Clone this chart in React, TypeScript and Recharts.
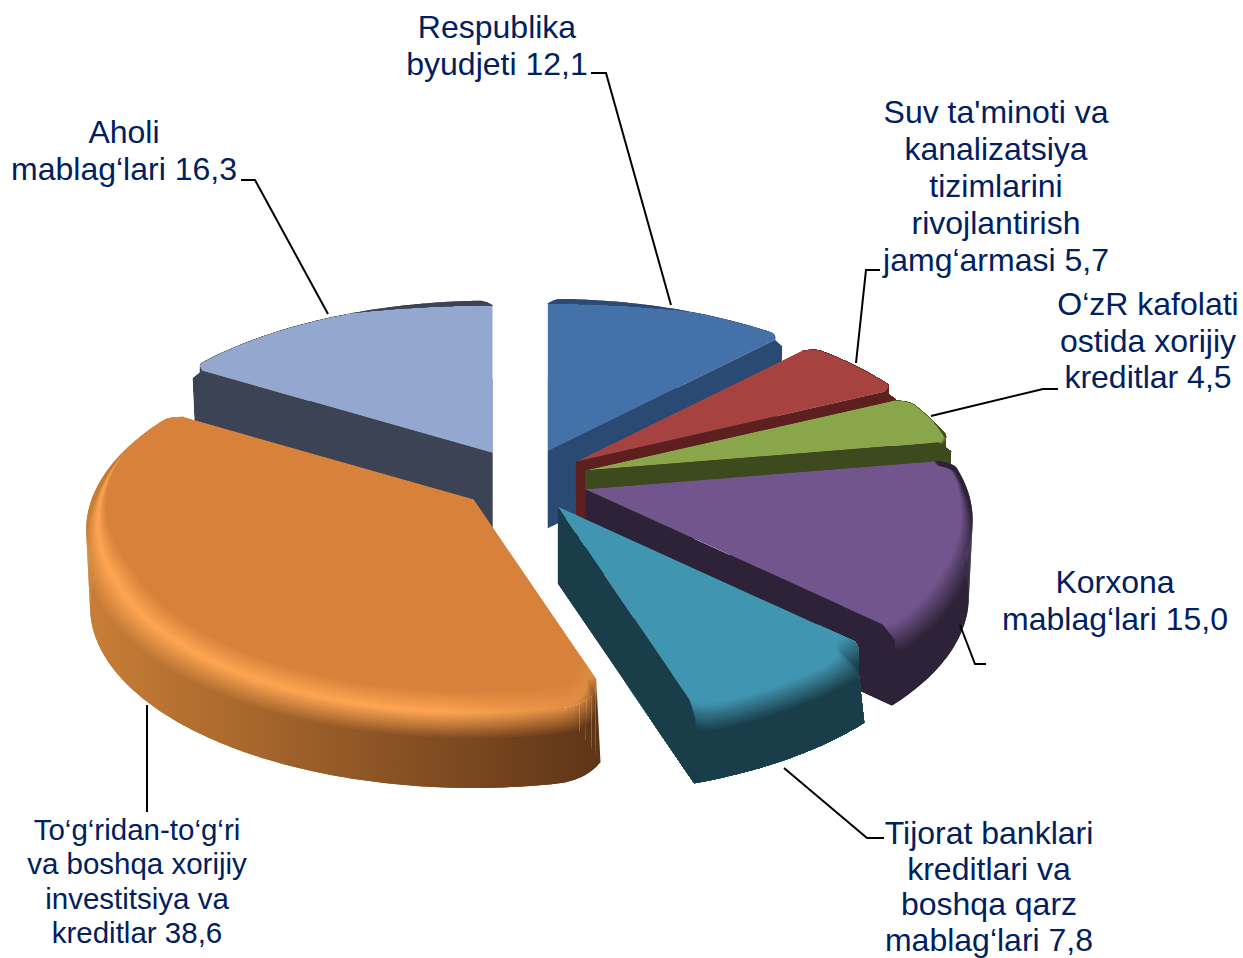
// App.tsx
import { PieChart, Pie } from "recharts";

const names = ["Aholi", "Respublika", "Suv", "OzR", "Korxona", "Tijorat", "Togridan"];
const values = [16.3, 12.1, 5.7, 4.5, 15.0, 7.8, 38.6];
const labelLines = [
  ["Aholi", "mablag‘lari"],
  ["Respublika", "byudjeti"],
  ["Suv ta'minoti va", "kanalizatsiya", "tizimlarini", "rivojlantirish", "jamg‘armasi"],
  ["O‘zR kafolati", "ostida xorijiy", "kreditlar"],
  ["Korxona", "mablag‘lari"],
  ["Tijorat banklari", "kreditlari va", "boshqa qarz", "mablag‘lari"],
  ["To‘g‘ridan-to‘g‘ri", "va boshqa xorijiy", "investitsiya va", "kreditlar"],
];

// slice colours: top face, rim (left / right), wall (left / right end of the outer wall), cut faces
const topColors = ["#93a7cf", "#4471a8", "#a6423f", "#8aa64b", "#72558c", "#4095b0", "#d7813a"];
const rimLeft = ["#93a7cf", "#4471a8", "#a6423f", "#8aa64b", "#72558c", "#4095b0", "#ffa552"];
const rimRight = ["#93a7cf", "#4471a8", "#a6423f", "#8aa64b", "#72558c", "#4095b0", "#dc8a40"];
const wallLeft = ["#3c4354", "#2a4a73", "#5e1f1f", "#3c4a1e", "#2e2238", "#1a3d4a", "#c97e36"];
const wallRight = ["#3c4354", "#2a4a73", "#5e1f1f", "#3c4a1e", "#2e2238", "#1a3d4a", "#5f3518"];
const cutColors = ["#3c4354", "#2a4a73", "#5e1f1f", "#3c4a1e", "#2e2238", "#1a3d4a", "#5f3518"];

// extra pull-in of the clockwise-first corner (only the orange slice has one)
const cornerExtra = [0, 0, 0, 0, 0, 0, 0.06];

// label placement: centre x, first baseline, line height, font size
const labelPos = [
  [124, 143, 37, 32],
  [497, 38, 37, 32],
  [996, 123, 37, 32],
  [1148, 315, 36.5, 32],
  [1115, 593, 37, 32],
  [989, 844, 35.7, 32],
  [137, 840, 34.3, 29.5],
];
const leaders = [
  "241,180 255,180 328,314",
  "591,73 606,73 671,305",
  "880,270 866,270 856,363",
  "1058,389 1043,389 931,416",
  "986,664 975,664 960,625",
  "884,838 867,838 784,768",
  "147,705 147,812",
];

const chartData = names.map((name, idx) => ({ name, value: values[idx], idx }));

const TILT = 0.466; // vertical squash of the disc
const PERSP = 0.168; // back of the disc is smaller than the front
const EXPLODE_X = 64;
const EXPLODE_Y = 31;
const WALL = 77;
const RIM_W = 0.09;
const RIM_H = 25;
const RIM_STEPS = 24;
// first slice starts so that Respublika begins at 12 o'clock
const START = 90 + (values[0] / 100) * 360;

const rad = (d: number) => (d * Math.PI) / 180;
const clamp = (v: number) => Math.max(0, Math.min(1, v));

function mix(c1: string, c2: string, t: number) {
  const p = (c: string, i: number) => parseInt(c.slice(i, i + 2), 16);
  const ch = [1, 3, 5].map((i) => Math.round(p(c1, i) + (p(c2, i) - p(c1, i)) * t));
  return `#${ch.map((v) => v.toString(16).padStart(2, "0")).join("")}`;
}

const toPath = (pts: number[][]) =>
  "M" + pts.map((p) => `${p[0].toFixed(1)} ${p[1].toFixed(1)}`).join("L") + "Z";

function SliceShape(props: any) {
  const { cx, cy, outerRadius, startAngle, endAngle } = props;
  const idx: number = props.payload?.idx ?? props.idx ?? 0;
  const mid = rad((startAngle + endAngle) / 2);
  const ax = cx + EXPLODE_X * Math.cos(mid);
  const ay = cy - EXPLODE_Y * Math.sin(mid);

  const proj = (deg: number, r: number, dy = 0, scale = 1) => {
    const a = r * Math.cos(rad(deg));
    const b = r * Math.sin(rad(deg));
    const s = scale / (1 + PERSP * b);
    return [ax + outerRadius * a * s, ay + dy - outerRadius * TILT * b * s];
  };

  const lo = Math.min(startAngle, endAngle);
  const hi = Math.max(startAngle, endAngle);
  const n = Math.max(8, Math.ceil(hi - lo));
  const degs: number[] = [];
  for (let i = 0; i <= n * 2; i++) degs.push(lo + ((hi - lo) * i) / (n * 2));
  const degsExt = [lo - 8, lo - 4, ...degs, hi + 4, hi + 8];

  // wallEdge is the wall outline, edge also rounds the top face corners
  const extra = cornerExtra[idx];
  const wallEdge = (d: number) => 1 - extra * Math.pow(1 - clamp((hi - d) / 7), 2);
  const edge = (d: number) => {
    const dist = Math.min(d - lo, hi - d);
    return wallEdge(d) - 0.035 * Math.pow(1 - clamp(dist / 2.5), 2);
  };
  // the rim band bends in over a wider stretch than the outline does
  const rimEdge = (d: number) => {
    const dist = Math.min(d - lo, hi - d);
    return wallEdge(d) - 0.06 * Math.pow(1 - clamp(dist / 6), 2);
  };
  const facing = (d: number) => clamp((0.3 - Math.sin(rad(d))) / 0.7);

  const topArc = degs.map((d) => proj(d, edge(d)));
  const bottomArc = degs.map((d) => proj(d, wallEdge(d), WALL, 0.99));
  const farArc = degsExt.map((d) => proj(d, 1.6, WALL));
  const apexTop = [ax, ay];
  const apexBot = [ax, ay + WALL];

  const topPath = toPath([apexTop, ...topArc]);
  const botPath = toPath([apexBot, ...bottomArc]);
  const cutFace = (k: number) => {
    const d = degs[k];
    return toPath([apexTop, proj(d, edge(d)), proj(d, wallEdge(d), 10), proj(d, wallEdge(d), WALL, 0.99), apexBot]);
  };
  // a cut face shows only when pushing its edge down leaves the wedge
  const middle = proj((lo + hi) / 2, 1);
  const cutShows = (k: number) => {
    const end = proj(degs[k], 1);
    const ex = end[0] - ax;
    const ey = end[1] - ay;
    if (Math.abs(ex) < 12) return false;
    const innerSide = ex * (middle[1] - ay) - ey * (middle[0] - ax);
    return ex * innerSide < 0;
  };
  const lastK = degs.length - 1;
  const visibleCuts = [0, lastK].filter(cutShows).map(cutFace);

  // wall outline as separate quads, one polygon would lose the tangent at the fold
  const quads: string[] = [];
  for (let i = 0; i + 2 < degs.length; i += 2) {
    quads.push(toPath([topArc[i], topArc[i + 2], bottomArc[i + 2], bottomArc[i]]));
  }

  const xs = topArc.map((p) => p[0]);
  const x1 = Math.min(...xs);
  const x2 = Math.max(...xs);
  const clipId = `slice-clip-${idx}`;

  const layers = [];
  for (let i = 0; i < RIM_STEPS; i++) {
    const t = i / (RIM_STEPS - 1);
    const curve = degsExt.map((d) => {
      const f = facing(d);
      const dip = (edge(d) - rimEdge(d)) * f * (1 - t);
      return proj(d, edge(d) - dip - edge(d) * RIM_W * f * (1 - t), RIM_H * f * t);
    });
    const u = clamp((t - 0.45) / 0.55);
    const tone = (rim: string, wall: string) =>
      t < 0.45 ? mix(topColors[idx], rim, t / 0.45) : mix(rim, wall, u);
    const gid = `slice-${idx}-layer-${i}`;
    layers.push(
      <g key={i}>
        <linearGradient id={gid} gradientUnits="userSpaceOnUse" x1={x1} x2={x2} y1={0} y2={0}>
          <stop offset="0" stopColor={tone(rimLeft[idx], wallLeft[idx])} />
          <stop offset="0.7" stopColor={tone(rimLeft[idx], mix(wallLeft[idx], wallRight[idx], 0.7))} />
          <stop offset="1" stopColor={tone(rimRight[idx], wallRight[idx])} />
        </linearGradient>
        <path d={toPath([...curve, ...[...farArc].reverse()])} fill={`url(#${gid})`} />
      </g>
    );
  }

  return (
    <g>
      <clipPath id={clipId}>
        <path d={topPath} />
        <path d={botPath} />
        {visibleCuts.map((c, i) => (
          <path key={i} d={c} />
        ))}
        {quads.map((q, i) => (
          <path key={i} d={q} />
        ))}
      </clipPath>
      <g clipPath={`url(#${clipId})`}>
        <path d={botPath} fill={cutColors[idx]} />
        <path d={topPath} fill={topColors[idx]} />
        {layers}
        {visibleCuts.map((c, i) => (
          <path key={i} d={c} fill={cutColors[idx]} />
        ))}
      </g>
    </g>
  );
}

function SliceLabel(props: any) {
  const idx: number = props.index;
  const [x, y, lh, size] = labelPos[idx];
  const lines = labelLines[idx];
  const valueText = values[idx].toFixed(1).replace(".", ",");
  return (
    <g>
      <polyline points={leaders[idx]} fill="none" stroke="#000000" strokeWidth={2} />
      <text
        textAnchor="middle"
        fontFamily="'Liberation Sans', Arial, sans-serif"
        fontSize={size}
        fill="#002060"
      >
        {lines.map((line, i) => (
          <tspan key={i} x={x} y={y + lh * i}>
            {i === lines.length - 1 ? `${line} ${valueText}` : line}
          </tspan>
        ))}
      </text>
    </g>
  );
}

export default function App() {
  return (
    <div style={{ position: "absolute", left: 0, top: 0, width: 1243, height: 958, background: "#ffffff", overflow: "hidden" }}>
      <PieChart width={1243} height={958} margin={{ top: 0, right: 0, bottom: 0, left: 0 }}>
        <Pie
          data={chartData}
          dataKey="value"
          nameKey="name"
          cx={524}
          cy={480}
          outerRadius={382}
          startAngle={START}
          endAngle={START - 360}
          stroke="none"
          shape={SliceShape}
          label={SliceLabel}
          labelLine={false}
          isAnimationActive={false}
        />
      </PieChart>
    </div>
  );
}
